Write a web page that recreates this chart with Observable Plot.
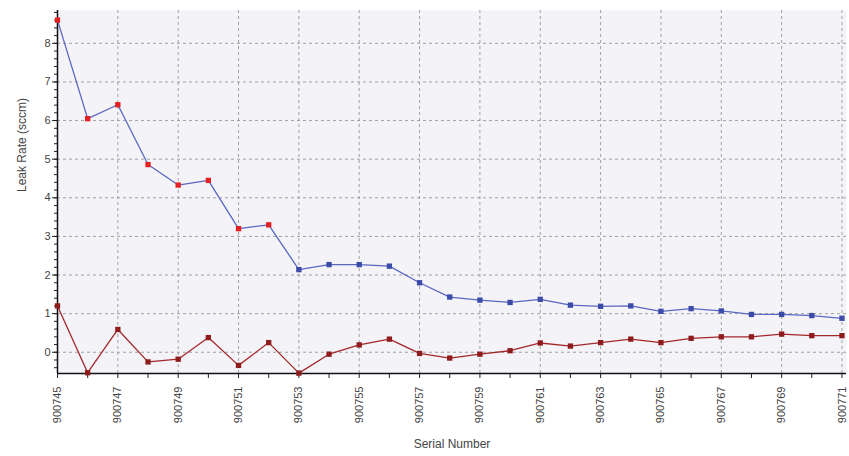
<!DOCTYPE html>
<html>
<head>
<meta charset="utf-8">
<script src="https://cdn.jsdelivr.net/npm/d3@7"></script>
<script src="https://cdn.jsdelivr.net/npm/@observablehq/plot@0.6"></script>
<style>
  html, body { margin: 0; padding: 0; background: #ffffff; }
  #chart { width: 849px; height: 456px; }
</style>
</head>
<body>
<div id="chart"></div>
<script>
// Serial numbers of the tested units
const serials = d3.range(900745, 900772);
const labeledSerials = serials.filter((d, i) => i % 2 === 0);

// Leak rate (sccm), upper series
const leakHigh = [8.6, 6.05, 6.41, 4.86, 4.33, 4.45, 3.2, 3.3, 2.14, 2.27, 2.27, 2.23, 1.8, 1.43,
  1.35, 1.29, 1.37, 1.22, 1.19, 1.2, 1.06, 1.13, 1.07, 0.98, 0.98, 0.95, 0.88];

// Leak rate (sccm), lower series
const leakLow = [1.2, -0.53, 0.59, -0.25, -0.18, 0.38, -0.34, 0.25, -0.54, -0.05, 0.19, 0.34, -0.03,
  -0.15, -0.05, 0.04, 0.24, 0.16, 0.25, 0.34, 0.25, 0.36, 0.4, 0.4, 0.47, 0.43, 0.43];

// Y axis ticks
const yTicks = [0, 1, 2, 3, 4, 5, 6, 7, 8];
const yMinor = d3.range(-2, 45).map(d => d / 5);

// Points above this limit are flagged in red
const limit = 3;

const high = serials.map((s, i) => ({serial: s, value: leakHigh[i]}));
const low = serials.map((s, i) => ({serial: s, value: leakLow[i]}));

const yMin = -0.55, yMax = 8.85;

const chart = Plot.plot({
  width: 849,
  height: 456,
  marginLeft: 57,
  marginRight: 3,
  marginTop: 10,
  marginBottom: 83,
  style: {fontFamily: "'Liberation Sans', Arial, sans-serif", fontSize: "11px", color: "#444", background: "#ffffff"},
  x: {domain: [900745, 900771.15]},
  y: {domain: [yMin, yMax]},
  marks: [
    Plot.frame({fill: "#f3f3f8", stroke: null}),
    Plot.gridX(labeledSerials, {stroke: "#999", strokeOpacity: 0.9, strokeDasharray: "3,3"}),
    Plot.gridY(yTicks, {stroke: "#999", strokeOpacity: 0.9, strokeDasharray: "3,3"}),
    Plot.axisY(yMinor.filter(d => d >= yMin && d <= yMax), {tickSize: 3, text: null, label: null, stroke: "#222"}),
    Plot.axisY(yTicks, {tickSize: 5, tickPadding: 2, tickFormat: d => String(d), label: null, stroke: "#222"}),
    Plot.axisX(serials, {tickSize: 5, text: null, label: null, stroke: "#222"}),
    Plot.axisX(labeledSerials, {tickSize: 0, tickPadding: 13, tickRotate: -90, tickFormat: d => String(d), label: null}),
    Plot.ruleY([yMin], {stroke: "#111", strokeWidth: 1.5}),
    Plot.ruleX([900745], {stroke: "#111", strokeWidth: 1.5}),
    Plot.text(["Serial Number"], {frameAnchor: "bottom", dy: 74, fontSize: 12, fill: "#444"}),
    Plot.text(["Leak Rate (sccm)"], {frameAnchor: "left", dx: -35, rotate: -90, fontSize: 12, fill: "#444"}),
    Plot.line(low, {x: "serial", y: "value", stroke: "#a3282a", strokeWidth: 1.3}),
    Plot.dot(low, {x: "serial", y: "value", r: 3, fill: "#8e1c1c", symbol: "square"}),
    Plot.line(high, {x: "serial", y: "value", stroke: "#5a68c0", strokeWidth: 1.3}),
    Plot.dot(high, {x: "serial", y: "value", r: 3, symbol: "square",
      fill: d => d.value > limit ? "#e52020" : "#3c4aa8"})
  ]
});

document.getElementById("chart").append(chart);
</script>
</body>
</html>
